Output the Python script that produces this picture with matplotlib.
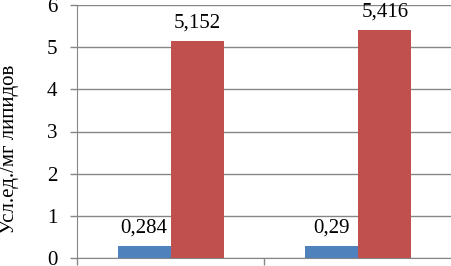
import matplotlib
matplotlib.use("Agg")
import matplotlib.pyplot as plt
import numpy as np

categories = ["", ""]
series1 = [0.284, 0.29]
series2 = [5.152, 5.416]
labels1 = ["0,284", "0,29"]
labels2 = ["5,152", "5,416"]
yticks = [0, 1, 2, 3, 4, 5, 6]

plt.rcParams['font.family'] = ['Liberation Serif', 'DejaVu Serif']
FS = 15

fig = plt.figure(figsize=(4.52, 2.66), dpi=100)
ax = fig.add_axes([77/452, 8/266, 375/452, 253/266])

x = np.arange(len(categories))
w = 0.283
b1 = ax.bar(x - w/2, series1, width=w, color="#4F81BD", zorder=3)
b2 = ax.bar(x + w/2, series2, width=w, color="#C0504D", zorder=3)

for rect, lab in zip(b1, labels1):
    ax.annotate(lab, (rect.get_x() + rect.get_width()/2, rect.get_height()),
                xytext=(0, 13), textcoords="offset pixels", ha="center", va="baseline", fontsize=FS)
for rect, lab in zip(b2, labels2):
    ax.annotate(lab, (rect.get_x() + rect.get_width()/2, rect.get_height()),
                xytext=(0, 13), textcoords="offset pixels", ha="center", va="baseline", fontsize=FS)

ax.set_xlim(-0.5, 1.5)
ax.set_ylim(0, 6)
ax.set_yticks(yticks)
ax.set_yticklabels([str(t) for t in yticks], fontsize=FS)
ax.set_xticks([-0.5, 0.5, 1.5])
ax.set_xticklabels([])
ax.tick_params(axis='y', length=5, width=1, color="#868686", pad=9)
ax.tick_params(axis='x', length=5, width=1, color="#868686")
ax.grid(axis='y', color="#868686", linewidth=1, zorder=0)
for s in ["top", "right"]:
    ax.spines[s].set_visible(False)
for s in ["left", "bottom"]:
    ax.spines[s].set_color("#868686")
ax.set_ylabel("Усл.ед./мг липидов", fontsize=FS)
ax.yaxis.set_label_coords(-0.155, 0.43)

fig.savefig("out.png", dpi=100)
